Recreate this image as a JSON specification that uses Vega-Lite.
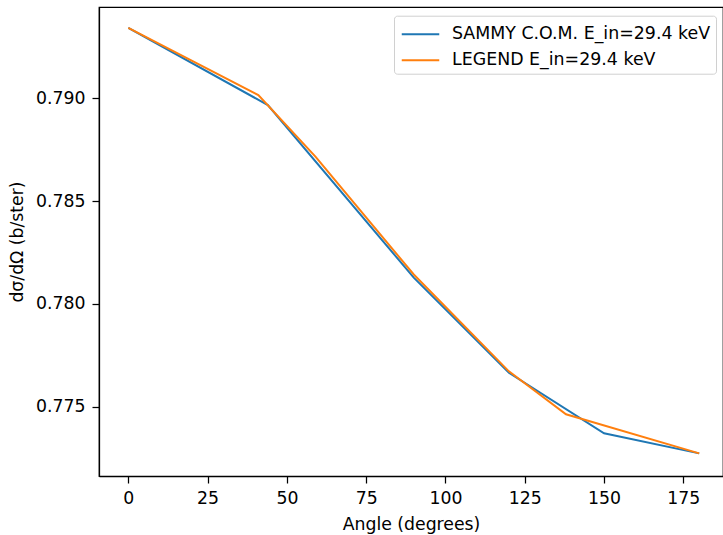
{
  "$schema": "https://vega.github.io/schema/vega-lite/v6.json",
  "width": 624,
  "height": 469,
  "autosize": {"type": "none"},
  "padding": {"left": 99, "top": 7, "right": 0, "bottom": 59},
  "background": "white",
  "config": {
    "view": {"stroke": "black", "strokeWidth": 1.25},
    "axis": {
      "domainColor": "black", "domainWidth": 1.25,
      "tickColor": "black", "tickWidth": 1.25, "tickSize": 7,
      "labelFont": "DejaVu Sans", "labelFontSize": 17.3, "labelColor": "black",
      "titleFont": "DejaVu Sans", "titleFontSize": 17.3, "titleFontWeight": "normal", "titleColor": "black",
      "grid": false
    }
  },
  "data": {
    "values": [
      {"series": "SAMMY C.O.M. E_in=29.4 keV", "angle": 0, "value": 0.79343},
      {"series": "SAMMY C.O.M. E_in=29.4 keV", "angle": 44, "value": 0.78967},
      {"series": "SAMMY C.O.M. E_in=29.4 keV", "angle": 90, "value": 0.78128},
      {"series": "SAMMY C.O.M. E_in=29.4 keV", "angle": 120, "value": 0.77665},
      {"series": "SAMMY C.O.M. E_in=29.4 keV", "angle": 150, "value": 0.77371},
      {"series": "SAMMY C.O.M. E_in=29.4 keV", "angle": 180, "value": 0.77273},
      {"series": "LEGEND E_in=29.4 keV", "angle": 0, "value": 0.79343},
      {"series": "LEGEND E_in=29.4 keV", "angle": 41, "value": 0.79016},
      {"series": "LEGEND E_in=29.4 keV", "angle": 59, "value": 0.78716},
      {"series": "LEGEND E_in=29.4 keV", "angle": 90, "value": 0.78143},
      {"series": "LEGEND E_in=29.4 keV", "angle": 120, "value": 0.77672},
      {"series": "LEGEND E_in=29.4 keV", "angle": 138, "value": 0.77463},
      {"series": "LEGEND E_in=29.4 keV", "angle": 180, "value": 0.77273}
    ]
  },
  "encoding": {
    "x": {
      "field": "angle", "type": "quantitative",
      "scale": {"domain": [-9.24, 187.5], "nice": false, "zero": false},
      "axis": {"title": "Angle (degrees)", "values": [0, 25, 50, 75, 100, 125, 150, 175], "labelPadding": 6, "titlePadding": 9, "labelFlush": false}
    },
    "y": {
      "field": "value", "type": "quantitative",
      "scale": {"domain": [0.77163, 0.79444], "nice": false, "zero": false},
      "axis": {"title": "dσ/dΩ (b/ster)", "values": [0.775, 0.78, 0.785, 0.79], "format": ".3f", "labelPadding": 7, "titlePadding": 9, "labelFlush": false}
    },
    "color": {
      "field": "series", "type": "nominal",
      "scale": {"domain": ["SAMMY C.O.M. E_in=29.4 keV", "LEGEND E_in=29.4 keV"], "range": ["#1f77b4", "#ff7f0e"]},
      "legend": {
        "orient": "none", "legendX": 295, "legendY": 8.7, "title": null,
        "symbolType": "M-1.5,0H1.5", "symbolSize": 625, "symbolStrokeWidth": 2, "symbolOffset": 8,
        "labelFont": "DejaVu Sans", "labelFontSize": 17.4, "labelColor": "black", "labelLimit": 400,
        "labelOffset": 18, "rowPadding": 4, "padding": 5,
        "fillColor": "white", "strokeColor": "#d0d0d0", "cornerRadius": 3
      }
    }
  },
  "layer": [
    {
      "transform": [{"filter": "datum.series === 'SAMMY C.O.M. E_in=29.4 keV'"}],
      "mark": {"type": "line", "strokeWidth": 2, "clip": true}
    },
    {
      "transform": [{"filter": "datum.series === 'LEGEND E_in=29.4 keV'"}],
      "mark": {"type": "line", "strokeWidth": 2, "clip": true}
    }
  ]
}
